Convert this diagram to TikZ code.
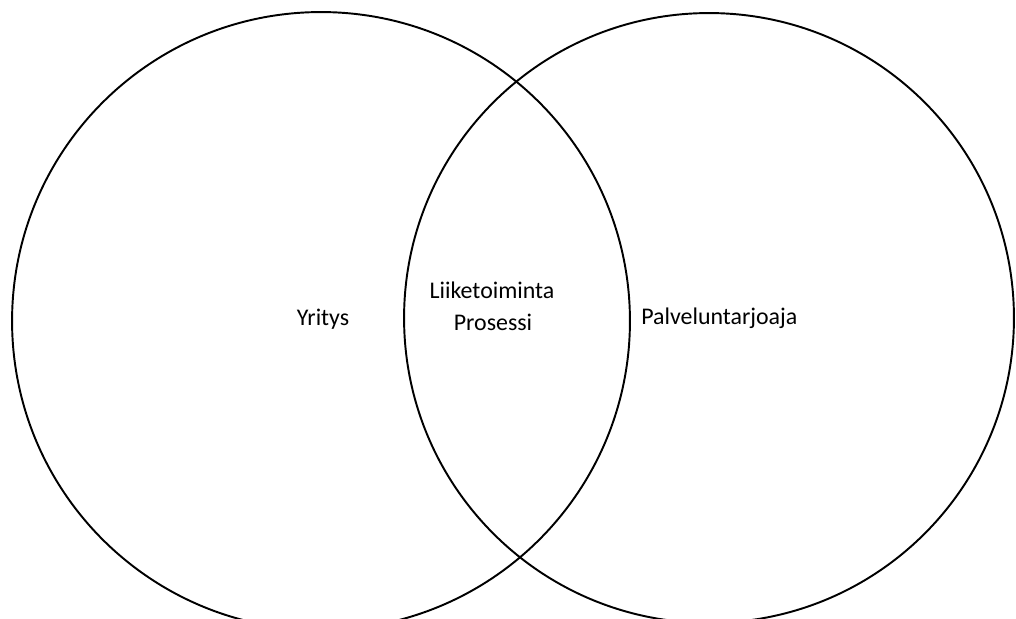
\documentclass[tikz,border=0pt]{standalone}
\usepackage{fontspec}
\setmainfont{Carlito}
\usetikzlibrary{positioning}

\begin{document}
\begin{tikzpicture}[
  x=0.02cm,y=-0.02cm,
  font=\fontsize{13.6}{16}\selectfont,
  % one ring per party
  ring/.style={circle,draw=black,line width=1.1pt,inner sep=0pt},
  lab/.style={anchor=base,inner sep=0pt},
]
\useasboundingbox (0,0) rectangle (1016,618);
\clip (0,0) rectangle (1016,618);

% =========== the two sets ============
\node[ring,minimum size=12.36cm] (yritys) at (321,321) {};
\node[ring,minimum size=12.2cm] (palvelu) at (709,318) {};

% =========== labels ============
\node[lab] (tYritys) at (323,325) {Yritys};
\node[lab] (tLiike) at (492,298) {Liiketoiminta};
\node[lab] (tProsessi) at (493,330) {Prosessi};
\node[lab,anchor=base west] (tPalvelu) at (641,324) {Palveluntarjoaja};

\end{tikzpicture}
\end{document}
